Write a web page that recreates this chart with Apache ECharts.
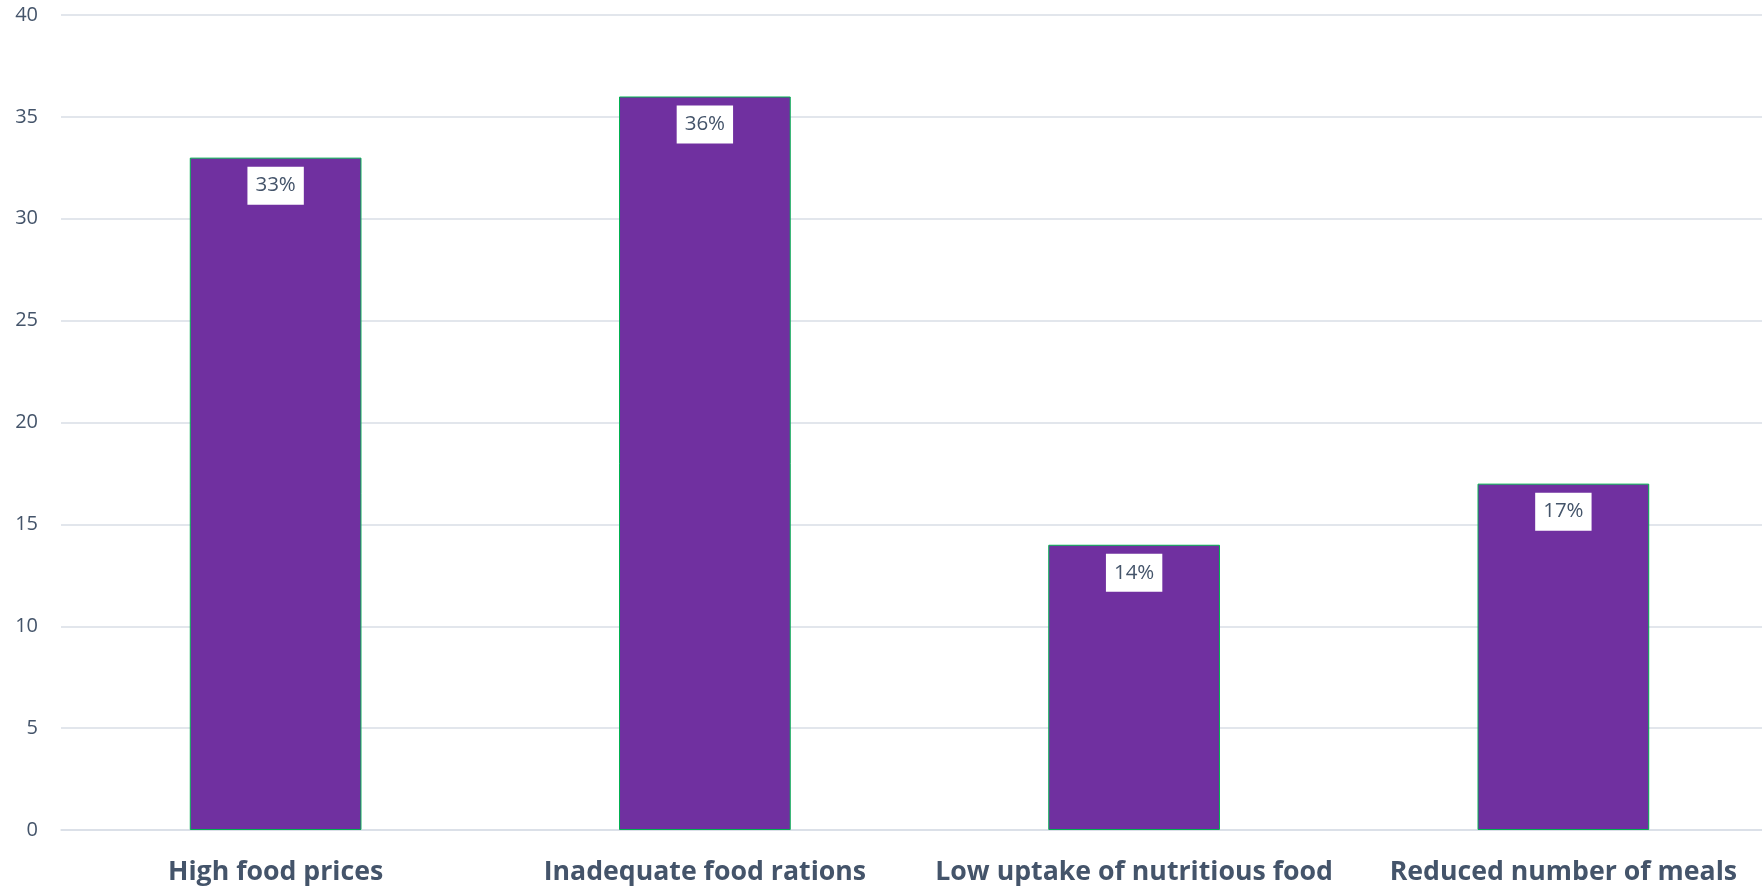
<!DOCTYPE html>
<html>
<head>
<meta charset="utf-8">
<script src="https://cdn.jsdelivr.net/npm/echarts@6/dist/echarts.min.js"></script>
<style>html,body{margin:0;padding:0;background:#fff}#c{width:1762px;height:888px}</style>
</head>
<body>
<div id="c"></div>
<script>
const categories = ["High food prices", "Inadequate food rations", "Low uptake of nutritious food", "Reduced number of meals"];
const values = [33, 36, 14, 17];

const chart = echarts.init(document.getElementById('c'), null, {renderer: 'canvas'});
chart.setOption({
  animation: false,
  grid: {left: 61, width: 1717, top: 15, bottom: 58, containLabel: false, outerBoundsMode: 'none'},
  xAxis: {
    type: 'category',
    data: categories,
    axisLine: {show: true, lineStyle: {color: '#D9DEE6', width: 1.5}},
    axisTick: {show: false},
    axisLabel: {
      color: '#44546A', fontFamily: 'Open Sans', fontWeight: 'bold', fontSize: 26.7,
      margin: 29, interval: 0
    }
  },
  yAxis: {
    type: 'value', min: 0, max: 40, interval: 5,
    axisLine: {show: false}, axisTick: {show: false},
    splitLine: {lineStyle: {color: '#D9DEE6', width: 1.5}},
    axisLabel: {color: '#44546A', fontFamily: 'Open Sans', fontSize: 20, margin: 23}
  },
  series: [{
    type: 'bar',
    data: values,
    barWidth: '40%',
    itemStyle: {color: '#7030A0', borderColor: '#00B050', borderWidth: 1},
    label: {
      show: true, position: 'insideTop', distance: 9,
      formatter: p => p.value + '%',
      color: '#44546A', fontFamily: 'Open Sans', fontSize: 20.5, lineHeight: 24,
      backgroundColor: '#ffffff', padding: [7, 8, 7, 8]
    }
  }]
});
</script>
</body>
</html>
